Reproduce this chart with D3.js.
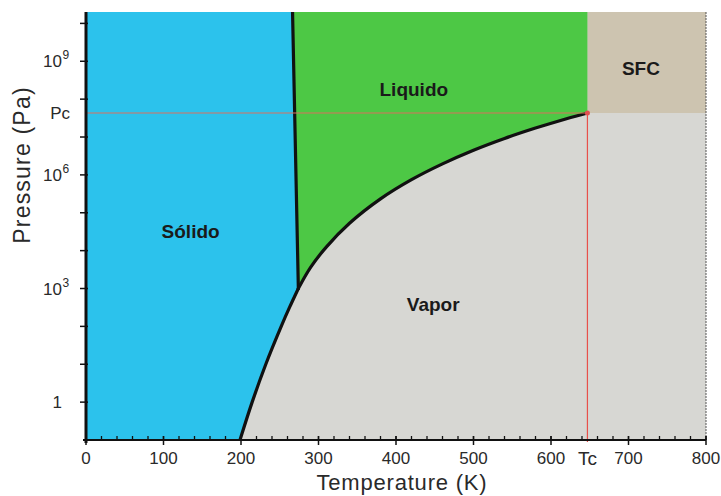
<!DOCTYPE html>
<html><head><meta charset="utf-8">
<script src="https://cdn.jsdelivr.net/npm/d3@7"></script>
<style>
html,body{margin:0;padding:0;background:#fff;}
svg{display:block;font-family:"Liberation Sans",Arial,sans-serif;}
</style></head>
<body><svg id="c" width="721" height="496"></svg>
<script>
// ---- data ----
const sublimationT = [198.7, 214.4, 232, 251.9, 262.6, 274];
const sublimationP = [0.1, 1, 10, 100, 316, 1000];
const meltingT = [274, 266.5];
const meltingP = [1000, 2e10];
const vaporT = [274, 290, 310, 340, 380, 420, 460, 500, 540, 580, 620, 647];
const vaporP = [1000, 3660, 12400, 52700, 2.32e5, 7.46e5, 1.95e6, 4.47e6, 9.15e6, 1.72e7, 3.05e7, 4.31e7];
const Tc = 647, Pc = 4.31e7;
const xTicks = [0, 100, 200, 300, 400, 500, 600, 700, 800];
const xMinorStep = 20;
const yTickExps = [0,1,2,3,4,5,6,7,8,9,10];
const yLabelExps = [0, 3, 6, 9];
const regionLabels = ["Sólido", "Liquido", "Vapor", "SFC"];
const regionLabelT = [135, 423, 448, 716];
const regionLabelP = [3e4, 1.6e8, 350, 6e8];
const xTitle = "Temperature (K)";
const yTitle = "Pressure (Pa)";

// ---- layout ----
const W = 721, H = 496;
const m = {left: 86, right: 15, top: 12, bottom: 56};
const svg = d3.select("#c");
const x = d3.scaleLinear().domain([0, 800]).range([m.left, W - m.right]);
const y = d3.scaleLog().domain([0.1, 2e10]).range([H - m.bottom, m.top]);
const yTop = y.range()[1], yBot = y.range()[0];

const C = {solid: "#2cc2ec", liquid: "#4dc845", vapor: "#d7d7d3", sfc: "#cdc4b0"};

svg.append("clipPath").attr("id", "pc").append("rect")
  .attr("x", x(0)).attr("y", yTop).attr("width", x(800) - x(0)).attr("height", yBot - yTop);
const g = svg.append("g").attr("clip-path", "url(#pc)");

const sub = sublimationT.map((t, i) => [x(t), y(sublimationP[i])]);
const melt = meltingT.map((t, i) => [x(t), y(meltingP[i])]);
const vap = vaporT.map((t, i) => [x(t), y(vaporP[i])]);
const curve = d3.line().curve(d3.curveCatmullRom.alpha(0.5));
const lin = d3.line();
const asL = s => s.replace(/^M/, "L").replace(/Z$/, "");

// vapor (background)
g.append("rect").attr("x", x(0)).attr("y", yTop).attr("width", x(800) - x(0))
  .attr("height", yBot - yTop).attr("fill", C.vapor);
// SFC
g.append("rect").attr("x", x(Tc)).attr("y", yTop).attr("width", x(800) - x(Tc))
  .attr("height", y(Pc) - yTop).attr("fill", C.sfc);
// liquid
const liqPath = "M" + vap[0][0] + "," + vap[0][1] + asL(lin(melt)) +
  "L" + x(Tc) + "," + yTop + "L" + x(Tc) + "," + y(Pc) + asL(curve(vap.slice().reverse())) + "Z";
g.append("path").attr("d", liqPath).attr("fill", C.liquid);
// solid
const solPath = "M" + x(0) + "," + yTop + "L" + x(0) + "," + yBot + "L" + sub[0][0] + "," + yBot +
  asL(curve(sub)) + asL(lin(melt)) + "Z";
g.append("path").attr("d", solPath).attr("fill", C.solid);

// boundary curves
[curve(sub), lin(melt), curve(vap)].forEach(d =>
  g.append("path").attr("d", d).attr("fill", "none").attr("stroke", "#111")
    .attr("stroke-width", 3.2).attr("stroke-linejoin", "round").attr("stroke-linecap", "round"));

// critical lines
svg.append("line").attr("x1", x(0)).attr("x2", x(Tc)).attr("y1", y(Pc)).attr("y2", y(Pc))
  .attr("stroke", "#d9705e").attr("stroke-width", 1.2);
svg.append("line").attr("x1", x(Tc)).attr("x2", x(Tc)).attr("y1", y(Pc)).attr("y2", yBot + 2)
  .attr("stroke", "#e8504a").attr("stroke-width", 1.2);
svg.append("circle").attr("cx", x(Tc)).attr("cy", y(Pc)).attr("r", 2.5).attr("fill", "#e05050");

// right border
svg.append("line").attr("x1", x(800)).attr("x2", x(800)).attr("y1", yTop).attr("y2", yBot)
  .attr("stroke", "#555").attr("stroke-width", 1).attr("stroke-dasharray", "2,1");

// region labels
svg.selectAll("text.reg").data(regionLabels).join("text").attr("class", "reg")
  .attr("x", (d, i) => x(regionLabelT[i])).attr("y", (d, i) => y(regionLabelP[i]))
  .attr("text-anchor", "middle").attr("dominant-baseline", "middle")
  .attr("font-size", 19).attr("font-weight", "bold").attr("fill", "#1a1a1a").text(d => d);

// x axis
const xa = svg.append("g");
xa.append("line").attr("x1", x(0) - 3).attr("x2", x(800)).attr("y1", yBot).attr("y2", yBot)
  .attr("stroke", "#111").attr("stroke-width", 2);
xa.selectAll("line.mn").data(d3.range(0, 801, xMinorStep)).join("line").attr("class", "mn")
  .attr("x1", d => x(d)).attr("x2", d => x(d)).attr("y1", yBot).attr("y2", yBot - 4)
  .attr("stroke", "#111").attr("stroke-width", 1.3);
xa.selectAll("line.mj").data(xTicks).join("line").attr("class", "mj")
  .attr("x1", d => x(d)).attr("x2", d => x(d)).attr("y1", yBot - 4).attr("y2", yBot + 5)
  .attr("stroke", "#111").attr("stroke-width", 1.5);
xa.selectAll("text").data(xTicks).join("text")
  .attr("x", d => x(d)).attr("y", yBot + 24).attr("text-anchor", "middle")
  .attr("font-size", 17).attr("fill", "#2a2a2a").text(d => d);
svg.append("text").attr("x", x(Tc)).attr("y", yBot + 25).attr("text-anchor", "middle")
  .attr("font-size", 19).attr("fill", "#2a2a2a").text("Tc");

// y axis
const ya = svg.append("g");
ya.append("line").attr("x1", x(0)).attr("x2", x(0)).attr("y1", yTop).attr("y2", yBot + 3)
  .attr("stroke", "#111").attr("stroke-width", 3);
ya.selectAll("line.t").data(yTickExps).join("line").attr("class", "t")
  .attr("x1", x(0) - 6).attr("x2", x(0) + 2).attr("y1", d => y(Math.pow(10, d))).attr("y2", d => y(Math.pow(10, d)))
  .attr("stroke", "#111").attr("stroke-width", 1.5);
const yl = ya.selectAll("g.lab").data(yLabelExps).join("g").attr("class", "lab");
yl.append("text").attr("x", 62).attr("y", d => y(Math.pow(10, d)) + 6).attr("text-anchor", "end")
  .attr("font-size", 17).attr("fill", "#2a2a2a").text(d => d === 0 ? "1" : "10");
yl.filter(d => d !== 0).append("text").attr("x", 62.5).attr("y", d => y(Math.pow(10, d)) - 2)
  .attr("font-size", 12).attr("fill", "#2a2a2a").text(d => d);
ya.append("text").attr("x", 70).attr("y", y(Pc) + 6).attr("text-anchor", "end")
  .attr("font-size", 17).attr("fill", "#2a2a2a").text("Pc");

// titles
svg.append("text").attr("x", 402).attr("y", 490).attr("text-anchor", "middle")
  .attr("font-size", 22).attr("letter-spacing", 0.8).attr("fill", "#2a2a2a").text(xTitle);
svg.append("text").attr("transform", "translate(30,165) rotate(-90)").attr("text-anchor", "middle")
  .attr("font-size", 23).attr("letter-spacing", 1.2).attr("fill", "#2a2a2a").text(yTitle);
</script></body></html>
